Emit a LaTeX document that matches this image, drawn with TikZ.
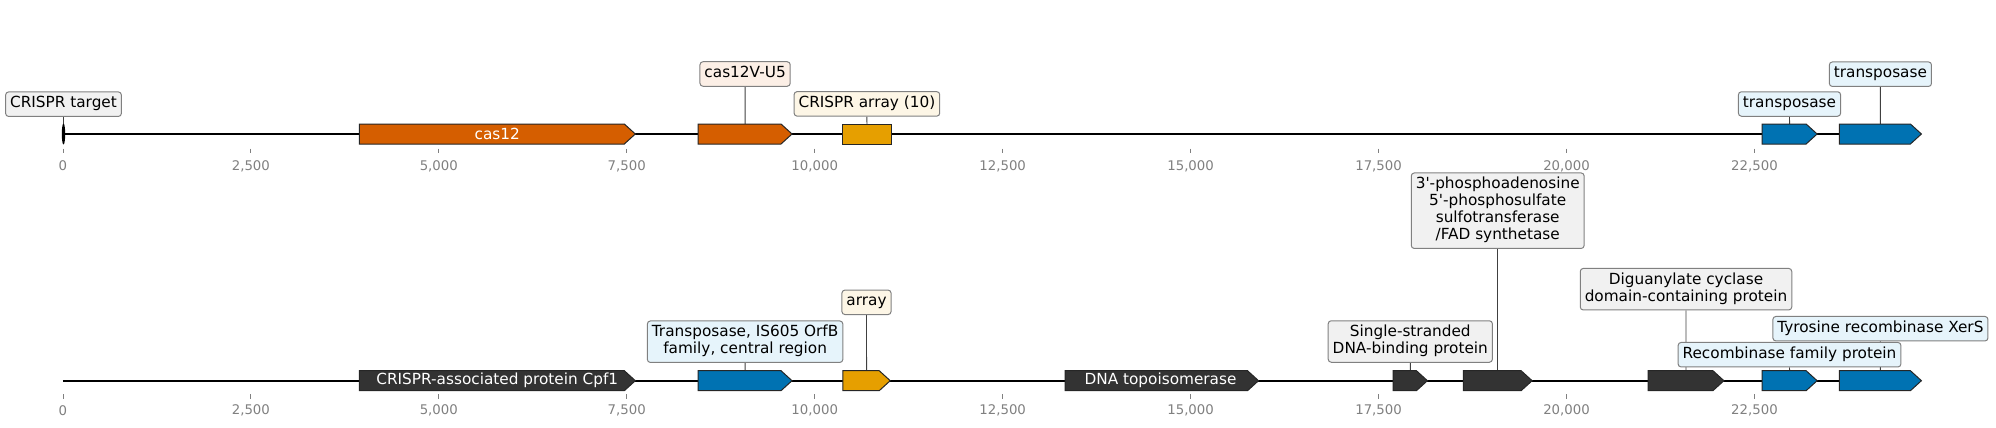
\documentclass[tikz,border=0pt]{standalone}
\usepackage{fontspec}
\setmainfont{DejaVu Sans}
\usetikzlibrary{calc}
\pgfdeclarelayer{bg}
\pgfsetlayers{bg,main}
\definecolor{cVerm}{HTML}{D55E00}
\definecolor{cOrange}{HTML}{E69F00}
\definecolor{cBlue}{HTML}{0072B2}
\definecolor{cDark}{HTML}{333333}
\definecolor{fGray}{HTML}{F1F1F1}
\definecolor{fPeach}{HTML}{FCEFE6}
\definecolor{fCream}{HTML}{FDF6E6}
\definecolor{fBlue}{HTML}{E6F4FB}
\definecolor{tickGray}{HTML}{808080}
\newcommand{\lblfont}{\fontsize{15.3}{17}\selectfont}
\newcommand{\tickfont}{\fontsize{13.3}{15}\selectfont}
% gene arrow: #1 name, #2 start x, #3 tip x, #4 mid y, #5 colour
\newcommand{\genearrow}[5]{%
  \filldraw[genebody, fill=#5] (#2,#4-10) -- ({#3-11},#4-10) -- (#3,#4) -- ({#3-11},#4+10) -- (#2,#4+10) -- cycle;
  \coordinate (#1) at ({(#2+#3)/2},#4-10);}
\newcommand{\genebox}[5]{%
  \filldraw[genebody, fill=#5] (#2,#4-10) rectangle (#3,#4+10);
  \coordinate (#1) at ({(#2+#3)/2},#4-10);}
\tikzset{
  genebody/.style={draw=black!85, line width=1pt},
  lbl/.style={draw=black!50, rounded corners=3pt, line width=1pt, inner xsep=4.5pt, inner ysep=3.75pt, align=center, font=\lblfont, text=black},
  genetext/.style={text=white, font=\lblfont, inner sep=0pt},
  ticklbl/.style={text=tickGray, font=\tickfont, inner sep=0pt},
  tickmark/.style={draw=tickGray, line width=0.8pt},
  axisline/.style={draw=black, line width=2pt},
  conn/.style={draw=black!75, line width=0.9pt}
}
\begin{document}
\begin{tikzpicture}[x=1pt, y=-1pt]
\useasboundingbox (0,0) rectangle (1996,428);
% ---------------- top track ----------------
\coordinate (topL) at (63.5,134);
\coordinate (topR) at (1921.4,134);
\draw[axisline] (topL) -- (topR);
\foreach \i/\lab in {0/0,1/{2,500},2/{5,000},3/{7,500},4/{10,000},5/{12,500},6/{15,000},7/{17,500},8/{20,000},9/{22,500}}{
  \coordinate (tkA\i) at ({62.9+\i*187.95},148.7);
  \coordinate (tkB\i) at ({62.9+\i*187.95},152.7);
  \draw[tickmark] (tkA\i) -- (tkB\i);
  \node[ticklbl] (tla\i) at ({62.9+\i*187.95},166) {\lab};
  \coordinate (tkC\i) at ({62.9+\i*187.95},394.3);
  \coordinate (tkD\i) at ({62.9+\i*187.95},399);
  \draw[tickmark] (tkC\i) -- (tkD\i);
  \node[ticklbl] (tlb\i) at ({62.9+\i*187.95},410.7) {\lab};
}
\fill[black] (63.5,134) ellipse (1.7 and 10.5);
\coordinate (gT) at (63.5,123.5);
\genearrow{gCas}{359.4}{635.3}{134}{cVerm}
\genearrow{gCasV}{698.2}{792}{134}{cVerm}
\genebox{gArr}{842.9}{891}{134}{cOrange}
\genearrow{gTr1}{1762}{1817.1}{134}{cBlue}
\genearrow{gTr2}{1839.3}{1921.4}{134}{cBlue}
\node[genetext] (tCas) at (497.3,134) {cas12};
\node[lbl, fill=fGray] (lT) at (63.5,104.2) {\strut CRISPR target};
\node[lbl, fill=fPeach] (lCasV) at (745.1,74) {\strut cas12V-U5};
\node[lbl, fill=fCream] (lArr) at (866.9,103.9) {\strut CRISPR array (10)};
\node[lbl, fill=fBlue] (lTr1) at (1789.5,104) {\strut transposase};
\node[lbl, fill=fBlue] (lTr2) at (1880.4,74.2) {\strut transposase};
% ---------------- bottom track ----------------
\coordinate (botL) at (62.9,380.7);
\coordinate (botR) at (1921.4,380.7);
\draw[axisline] (botL) -- (botR);
\genearrow{gCpf}{359.4}{635.3}{380.7}{cDark}
\genearrow{gIS}{698.2}{792}{380.7}{cBlue}
\genearrow{gArrB}{842.9}{890.2}{380.7}{cOrange}
\genearrow{gTopo}{1065.2}{1258.5}{380.7}{cDark}
\genearrow{gSSB}{1393.2}{1427.4}{380.7}{cDark}
\genearrow{gPAPS}{1463.3}{1532.1}{380.7}{cDark}
\genearrow{gDig}{1648}{1723.9}{380.7}{cDark}
\genearrow{gRec}{1762}{1817.1}{380.7}{cBlue}
\genearrow{gTyr}{1839.3}{1921.4}{380.7}{cBlue}
\node[genetext] (tCpf) at (497.3,380.7) {CRISPR-associated protein Cpf1};
\node[genetext] (tTopo) at (1160.5,380.7) {DNA topoisomerase};
\node[lbl, fill=fBlue] (lIS) at (745.1,341.7) {\strut Transposase, IS605 OrfB\\\strut family, central region};
\node[lbl, fill=fCream] (lArrB) at (866.5,302.3) {\strut array};
\node[lbl, fill=fGray] (lSSB) at (1410.3,341.5) {\strut Single-stranded\\\strut DNA-binding protein};
\node[lbl, fill=fGray] (lPAPS) at (1497.7,210.7) {\strut 3\textquotesingle-phosphoadenosine\\\strut 5\textquotesingle-phosphosulfate\\\strut sulfotransferase\\\strut /FAD synthetase};
\node[lbl, fill=fGray] (lDig) at (1686,289.2) {\strut Diguanylate cyclase\\\strut domain-containing protein};
\node[lbl, fill=fBlue] (lTyr) at (1880.4,328.7) {\strut Tyrosine recombinase XerS};
\node[lbl, fill=fBlue] (lRec) at (1789.5,354.7) {\strut Recombinase family protein};
% ---------------- connectors (behind) ----------------
\begin{pgfonlayer}{bg}
\draw[conn] (lT.south) -- (gT);
\draw[conn] (lCasV.south) -- (gCasV);
\draw[conn] (lArr.south) -- (gArr);
\draw[conn] (lTr1.south) -- (gTr1);
\draw[conn] (lTr2.south) -- (gTr2);
\draw[conn] (lIS.south) -- (gIS);
\draw[conn] (lArrB.south) -- (gArrB);
\draw[conn] (lSSB.south) -- (gSSB);
\draw[conn] (lPAPS.south) -- (gPAPS);
\draw[conn] (lDig.south) -- (gDig);
\draw[conn] (lTyr.south) -- (gTyr);
\draw[conn] (lRec.south) -- (gRec);
\end{pgfonlayer}
\end{tikzpicture}
\end{document}
